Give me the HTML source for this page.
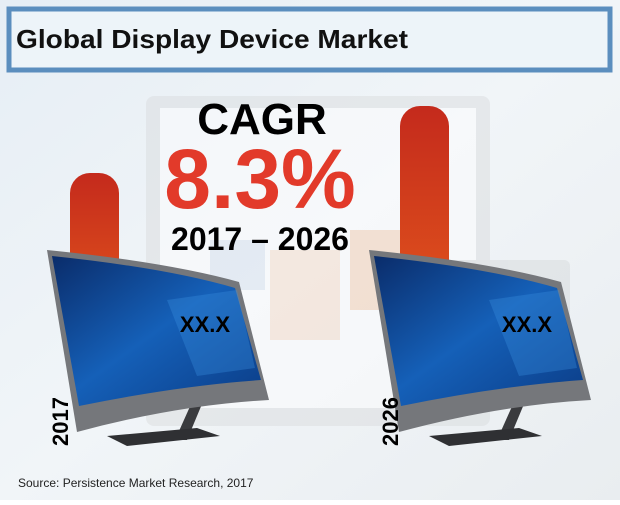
<!DOCTYPE html>
<html><head><meta charset="utf-8"><style>
body{margin:0;width:620px;height:500px;overflow:hidden;font-family:"Liberation Sans",sans-serif}
</style></head><body>
<svg width="620" height="500" viewBox="0 0 620 500">
<defs>
<linearGradient id="bg" x1="0" y1="0" x2="1" y2="1"><stop offset="0" stop-color="#e6eef5"/><stop offset="0.5" stop-color="#f1f5f8"/><stop offset="1" stop-color="#e9edf0"/></linearGradient>
<linearGradient id="bar" x1="0" y1="0" x2="0" y2="1"><stop offset="0" stop-color="#c42a1c"/><stop offset="1" stop-color="#e2561d"/></linearGradient>
<linearGradient id="scr" x1="0" y1="0" x2="1" y2="1"><stop offset="0" stop-color="#0a2c6a"/><stop offset="0.5" stop-color="#1560b8"/><stop offset="1" stop-color="#0b3c86"/></linearGradient>
</defs>
<rect width="620" height="500" fill="url(#bg)"/>
<g opacity="0.45">
<rect x="146" y="96" width="344" height="330" rx="8" fill="#d8dadc"/>
<rect x="160" y="108" width="316" height="300" fill="#ffffff"/>
<rect x="270" y="250" width="70" height="90" fill="#f7d9c4"/>
<rect x="350" y="230" width="60" height="80" fill="#f5c8a8"/>
<rect x="210" y="240" width="55" height="50" fill="#d5e0ee"/>
<rect x="430" y="260" width="140" height="120" rx="6" fill="#d3d6d9"/>
</g>
<rect x="9" y="9" width="601" height="61" fill="#edf4f9" stroke="#5b8ebe" stroke-width="5"/>
<text x="16" y="48" font-family="'Liberation Sans',sans-serif" font-weight="bold" font-size="26" textLength="392" lengthAdjust="spacingAndGlyphs" fill="#111">Global Display Device Market</text>
<g id="bars"></g>
<text x="262" y="134" text-anchor="middle" font-weight="bold" font-size="44" fill="#000">CAGR</text>
<text x="260" y="208" text-anchor="middle" font-weight="bold" font-size="84" fill="#e23a2a">8.3%</text>
<text x="260" y="250" text-anchor="middle" font-weight="bold" font-size="32" fill="#000">2017 – 2026</text>
<g id="monitors"></g>
<text x="18" y="487" font-size="12" fill="#222">Source: Persistence Market Research, 2017</text>
</svg>
<script>
const years = ["2017", "2026"];
const barValues = [127, 194];
const valueLabels = ["XX.X", "XX.X"];
const NS = "http://www.w3.org/2000/svg";
const baseY = 300, scale = 1;
const xPos = i => 70 + i * 330;
const yPos = v => baseY - v * scale;
const bars = document.getElementById('bars');
const mons = document.getElementById('monitors');
function mk(tag, attrs, parent){const e=document.createElementNS(NS,tag);for(const k in attrs)e.setAttribute(k,attrs[k]);parent.appendChild(e);return e;}
years.forEach((y, i) => {
  const x = xPos(i);
  const b = mk('rect', {x:x, y:yPos(barValues[i]), width:49, height:barValues[i]*scale+20, rx:20, fill:'url(#bar)'}, bars);
  
  
  const ox = 47 + i * 322;
  const g = mk('g', {transform:'translate(' + ox + ',0)'}, mons);
  
  
  mk('path', {d:'M145,402 L128,440 L140,440 L155,404 Z', fill:'#3a3b3e'}, g);
  mk('path', {d:'M60,436 L150,428 L173,436 L80,446 Z', fill:'#2f3033'}, g);
  mk('path', {d:'M0,250 Q120,262 192,282 L222,400 Q130,405 30,432 Z', fill:'#75777b'}, g);
  mk('path', {d:'M5,256 Q120,268 188,288 L214,380 Q130,386 32,406 Z', fill:'url(#scr)'}, g);
  mk('path', {d:'M120,300 L190,290 L208,368 L150,376 Z', fill:'#3a8ee0', opacity:'0.35'}, g);
  const t = mk('text', {x:158, y:332, 'text-anchor':'middle', 'font-weight':'bold', 'font-size':'22', fill:'#000'}, g);
  t.textContent = valueLabels[i];
  
  
  const yl = mk('text', {x:0, y:0, transform:'translate(' + (x - 2) + ',446) rotate(-90)', 'font-weight':'bold', 'font-size':'22', fill:'#000'}, mons);
  yl.textContent = y;
  
  
});
</script>
</body></html>
